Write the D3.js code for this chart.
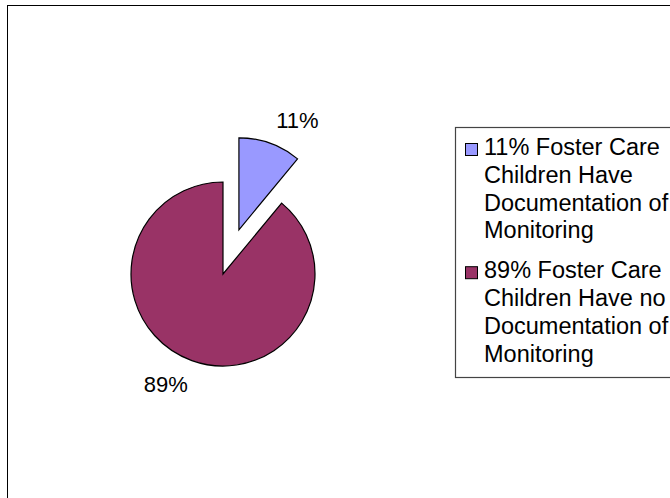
<!DOCTYPE html>
<html>
<head>
<meta charset="utf-8">
<script src="https://cdn.jsdelivr.net/npm/d3@7"></script>
<style>
  body { margin: 0; background: #fff; }
  svg { display: block; font-family: Arial, "Liberation Sans", sans-serif; }
</style>
</head>
<body>
<div id="chart"></div>
<script>
// chart data
const categories = [
  "11% Foster Care Children Have Documentation of Monitoring",
  "89% Foster Care Children Have no Documentation of Monitoring"
];
const values = [11, 89];
const sliceLabels = ["11%", "89%"];
const colors = ["#9999FF", "#993366"];

const width = 670, height = 498;

const svg = d3.select("#chart")
  .append("svg")
    .attr("width", width)
    .attr("height", height);

// outer chart border (right and bottom edges fall outside the window)
svg.append("rect")
  .attr("x", 7.5)
  .attr("y", 5.5)
  .attr("width", 700)
  .attr("height", 520)
  .attr("fill", "#fff")
  .attr("stroke", "#000")
  .attr("stroke-width", 1);

// pie
const radius = 92;
const cx = 223, cy = 274;
const explode = 47;

const pie = d3.pie().sort(null).startAngle(0).endAngle(2 * Math.PI);
const arcs = pie(values);
const arc = d3.arc().innerRadius(0).outerRadius(radius);

const color = d3.scaleOrdinal().domain(categories).range(colors);

const pieG = svg.append("g")
  .attr("transform", `translate(${cx},${cy})`);

// only the first (smallest) slice is pulled out
const offset = (d, i) => {
  if (i !== 0) return [0, 0];
  const a = (d.startAngle + d.endAngle) / 2;
  return [Math.sin(a) * explode, -Math.cos(a) * explode];
};

pieG.selectAll("path")
  .data(arcs)
  .join("path")
    .attr("transform", (d, i) => `translate(${offset(d, i)})`)
    .attr("d", arc)
    .attr("fill", (d, i) => color(categories[i]))
    .attr("stroke", "#000")
    .attr("stroke-width", 1.2)
    .attr("stroke-linejoin", "miter");

// percentage labels, outside end of each slice
pieG.selectAll("text.pct")
  .data(arcs)
  .join("text")
    .attr("class", "pct")
    .each(function(d, i) {
      const a = (d.startAngle + d.endAngle) / 2;
      const [ox, oy] = offset(d, i);
      const r = radius + 12;
      const px = ox + Math.sin(a) * r;
      const py = oy - Math.cos(a) * r;
      d3.select(this)
        .attr("x", px + (Math.sin(a) >= 0 ? 2 : 0))
        .attr("y", Math.cos(a) >= 0 ? py - 4 : py + 20)
        .attr("text-anchor", Math.sin(a) >= 0 ? "start" : "end");
    })
    .style("font-size", "22px")
    .style("fill", "#000")
    .text((d, i) => sliceLabels[i]);

// legend
const legend = svg.append("g")
  .attr("class", "legend");

legend.append("rect")
  .attr("x", 455.5)
  .attr("y", 127.5)
  .attr("width", 240)
  .attr("height", 250)
  .attr("fill", "#fff")
  .attr("stroke", "#444")
  .attr("stroke-width", 1.2);

// wrap a legend entry into lines no wider than maxW
function wrapLines(text, maxW, fontSize) {
  const probe = svg.append("text").style("font-size", fontSize + "px");
  const words = text.split(" ");
  const lines = [];
  let line = [];
  words.forEach(w => {
    const test = line.concat(w).join(" ");
    probe.text(test);
    if (line.length && probe.node().getComputedTextLength() > maxW) {
      lines.push(line.join(" "));
      line = [w];
    } else {
      line.push(w);
    }
  });
  if (line.length) lines.push(line.join(" "));
  probe.remove();
  return lines;
}

const legendFont = 23.5;
const lineH = 27.8;
let baseY = 155;

categories.forEach((cat, i) => {
  const lines = wrapLines(cat, 196, legendFont);
  legend.append("rect")
    .attr("x", 465.5)
    .attr("y", baseY - 11.5)
    .attr("width", 12)
    .attr("height", 12)
    .attr("fill", color(cat))
    .attr("stroke", "#000")
    .attr("stroke-width", 1);
  const t = legend.append("text")
    .attr("x", 484)
    .attr("y", baseY)
    .style("font-size", legendFont + "px")
    .style("fill", "#000");
  lines.forEach((ln, j) => {
    t.append("tspan")
      .attr("x", 484)
      .attr("y", baseY + j * lineH)
      .text(ln);
  });
  baseY += lines.length * lineH + 12;
});
</script>
</body>
</html>
